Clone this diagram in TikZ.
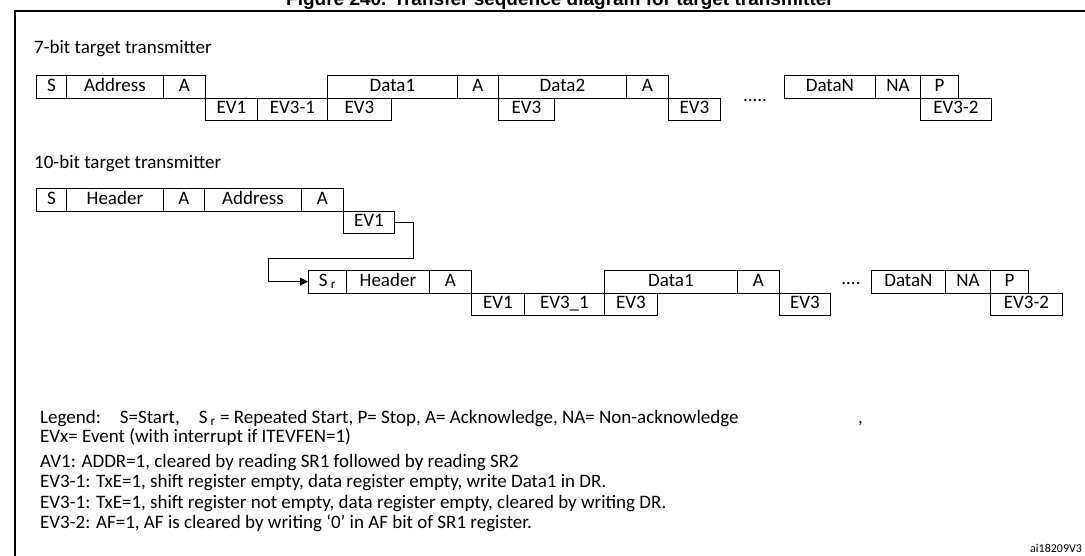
\documentclass[tikz,border=0pt]{standalone}
\usepackage{fontspec}
\setmainfont{Carlito}
\newfontfamily\titlefont{Liberation Sans}
\usetikzlibrary{arrows.meta}

% one slot of the bus sequence: name, left, right, top, text
\newcommand\slot[5]{%
  \node [cell, anchor=north west, minimum width={(#3-#2)*1pt}] (#1) at (#2,#4) {#5};}

\begin{document}
\begin{tikzpicture}[x=1pt, y=-1pt, font=\fontsize{19}{22}\selectfont,
    cell/.style={draw, line width=0.8pt, inner sep=0pt, minimum height=22.5pt, text depth=0pt, text height=9pt},
    line/.style={draw, line width=0.9pt, -{Triangle[length=8pt,width=8pt]}}]
    \clip (0,0) rectangle (1085,555);
    \useasboundingbox (0,0) rectangle (1085,555);

    % frame and title
    \node [anchor=base, font=\titlefont\bfseries\fontsize{19}{21}\selectfont] (title) at (560,5)
        {Figure 240. Transfer sequence diagram for target transmitter};
    \draw [line width=1.2pt] (15,560) -- (15,11) -- (1090,11);

    % 7-bit target transmitter
    \node [anchor=base west, inner sep=0pt] (headA) at (34,53) {7-bit target transmitter};
    \slot{sA}{36}{66}{75}{S}
    \slot{addrA}{66}{163}{75}{Address}
    \slot{ackA}{163}{205}{75}{A}
    \slot{evoneA}{205}{257}{97.5}{EV1}
    \slot{evthreeoneA}{257}{327}{97.5}{EV3-1}
    \slot{dataoneA}{327}{457}{75}{Data1}
    \slot{evthreeA}{327}{391}{97.5}{EV3}
    \slot{ackbA}{457}{498}{75}{A}
    \slot{datatwoA}{498}{626}{75}{Data2}
    \slot{evthreebA}{498}{554}{97.5}{EV3}
    \slot{ackcA}{626}{668}{75}{A}
    \slot{evthreecA}{668}{720}{97.5}{EV3}
    \node (dotsA) at (755,100) {.....};
    \slot{datanA}{784}{875}{75}{DataN}
    \slot{nackA}{875}{920}{75}{NA}
    \slot{stopA}{920}{958}{75}{P}
    \slot{evthreetwoA}{920}{991}{97.5}{EV3-2}

    % 10-bit target transmitter
    \node [anchor=base west, inner sep=0pt] (headB) at (34,168) {10-bit target transmitter};
    \slot{sB}{36}{66}{188}{S}
    \slot{hdrB}{66}{163}{188}{Header}
    \slot{ackB}{163}{204}{188}{A}
    \slot{addrB}{204}{301}{188}{Address}
    \slot{ackbB}{301}{343}{188}{A}
    \slot{evoneB}{343}{394}{210.5}{EV1}
    \slot{srB}{308}{346}{270}{S\,\textsubscript{r}}
    \slot{hdrbB}{346}{429}{270}{Header}
    \slot{ackcB}{429}{471}{270}{A}
    \slot{evonebB}{471}{524}{292.5}{EV1}
    \slot{evthreeoneB}{524}{604}{292.5}{EV3\_1}
    \slot{dataoneB}{604}{737}{270}{Data1}
    \slot{evthreeB}{604}{657}{292.5}{EV3}
    \slot{ackdB}{737}{779}{270}{A}
    \slot{evthreebB}{779}{830}{292.5}{EV3}
    \node (dotsB) at (851,283) {....};
    \slot{datanB}{871}{945}{270}{DataN}
    \slot{nackB}{945}{990}{270}{NA}
    \slot{stopB}{990}{1028}{270}{P}
    \slot{evthreetwoB}{990}{1062}{292.5}{EV3-2}

    % repeated start
    \path [line] (evoneB.east) -- ++(19,0) |- (268,258) |- (srB.west);

    % legend
    \node [anchor=base west, inner sep=0pt] (legend) at (40,423)
        {Legend:\quad S=Start,\quad S\,\textsubscript{r} = Repeated Start, P= Stop, A= Acknowledge, NA= Non-acknowledge};
    \node [anchor=base west, inner sep=0pt] (comma) at (858,423) {,};
    \node [anchor=base west, inner sep=0pt] (evx) at (40,442) {EVx= Event (with interrupt if ITEVFEN=1)};
    \node [anchor=base west, inner sep=0pt] (noteA) at (40,467) {AV1: ADDR=1, cleared by reading SR1 followed by reading SR2};
    \node [anchor=base west, inner sep=0pt] (noteB) at (40,487) {EV3-1: TxE=1, shift register empty, data register empty, write Data1 in DR.};
    \node [anchor=base west, inner sep=0pt] (noteC) at (40,508) {EV3-1: TxE=1, shift register not empty, data register empty, cleared by writing DR.};
    \node [anchor=base west, inner sep=0pt] (noteD) at (40,528) {EV3-2: AF=1, AF is cleared by writing `0' in AF bit of SR1 register.};
    \node [anchor=base west, inner sep=0pt, font=\fontsize{12}{13}\selectfont] (ref) at (1030,552) {ai18209V3};
\end{tikzpicture}
\end{document}
